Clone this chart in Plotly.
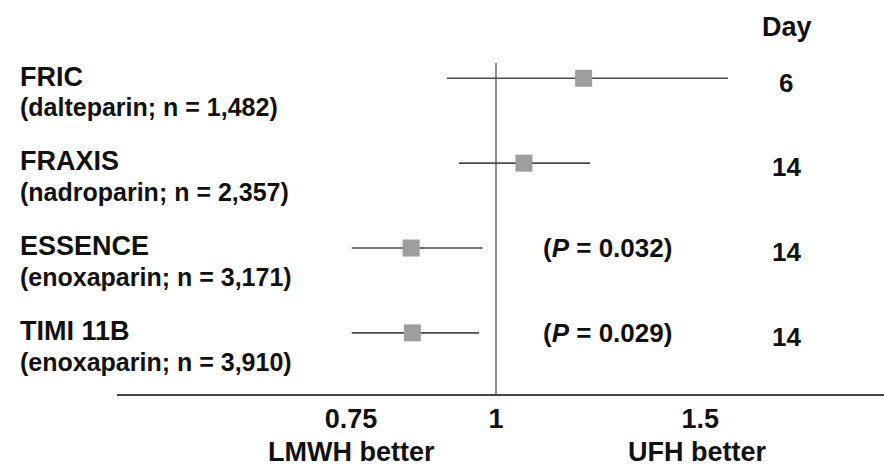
import math
import plotly.graph_objects as go

# ---- data ----
trials = ["FRIC", "FRAXIS", "ESSENCE", "TIMI 11B"]
details = ["(dalteparin; n = 1,482)", "(nadroparin; n = 2,357)",
           "(enoxaparin; n = 3,171)", "(enoxaparin; n = 3,910)"]
estimate = [1.19, 1.057, 0.845, 0.847]
ci_low = [0.907, 0.929, 0.751, 0.751]
ci_high = [1.585, 1.205, 0.974, 0.967]
days = ["6", "14", "14", "14"]
p_values = ["", "", "(<i>P</i> = 0.032)", "(<i>P</i> = 0.029)"]
tick_vals = [0.75, 1, 1.5]
tick_text = ["0.75", "1", "1.5"]
favour_labels = ["LMWH better", "UFH better"]
favour_pos = [0.75, 1.49]

# ---- layout helpers ----
FONT = "Liberation Sans, Arial, sans-serif"
rows = [4, 3, 2, 1]
L, R, T, B = 117, 0, 63, 74
W, H = 884, 468
pw = W - L - R
ph = H - T - B
xr = [-(496 - L) / 1160.0, (W - R - 496) / 1160.0]
yr = [0.28, 4.18]

fig = go.Figure()
fig.add_trace(go.Scatter(
    x=estimate, y=rows, mode="markers",
    marker=dict(symbol="square", size=17, color="#9e9e9e", line=dict(width=0)),
    error_x=dict(type="data", symmetric=False,
                 array=[h - e for h, e in zip(ci_high, estimate)],
                 arrayminus=[e - l for e, l in zip(estimate, ci_low)],
                 color="#4a4a4a", thickness=1.6, width=0),
    showlegend=False, hoverinfo="skip"))

ann = []
for r, t, d, dy, pv in zip(rows, trials, details, days, p_values):
    ann.append(dict(text="<b>%s</b>" % t, x=(18 - L) / pw, xref="paper", y=r + 0.02, yref="y",
                    xanchor="left", yanchor="middle", showarrow=False,
                    font=dict(size=27, color="#111", family=FONT)))
    ann.append(dict(text="<b>%s</b>" % d, x=(18 - L) / pw, xref="paper", y=r - 0.34, yref="y",
                    xanchor="left", yanchor="middle", showarrow=False,
                    font=dict(size=25, color="#111", family=FONT)))
    ann.append(dict(text="<b>%s</b>" % dy, x=(786 - L) / pw, xref="paper", y=r - 0.05, yref="y",
                    xanchor="center", yanchor="middle", showarrow=False,
                    font=dict(size=26, color="#111", family=FONT)))
    if pv:
        ann.append(dict(text="<b>%s</b>" % pv, x=(607 - L) / pw, xref="paper", y=r, yref="y",
                        xanchor="center", yanchor="middle", showarrow=False,
                        font=dict(size=26, color="#111", family=FONT)))
ann.append(dict(text="<b>Day</b>", x=(787 - L) / pw, xref="paper", y=1 + 36 / ph, yref="paper",
                xanchor="center", yanchor="middle", showarrow=False,
                font=dict(size=27, color="#111", family=FONT)))
for lab, pos in zip(favour_labels, favour_pos):
    ann.append(dict(text="<b>%s</b>" % lab, x=math.log10(pos), xref="x", y=-(452 - (H - B)) / ph,
                    yref="paper", xanchor="center", yanchor="middle", showarrow=False,
                    font=dict(size=27, color="#111", family=FONT)))

fig.update_layout(
    width=W, height=H, margin=dict(l=L, r=R, t=T, b=B),
    paper_bgcolor="white", plot_bgcolor="white",
    annotations=ann,
    shapes=[dict(type="line", xref="x", yref="paper", x0=1, x1=1, y0=0, y1=1,
                 line=dict(color="#555", width=1.3))],
    xaxis=dict(type="log", range=xr, showgrid=False, zeroline=False,
               showline=True, linecolor="#444", linewidth=2,
               tickmode="array", tickvals=tick_vals, ticktext=["<b>%s</b>" % t for t in tick_text],
               ticks="", tickfont=dict(size=27, color="#111", family=FONT),
               ticklabelstandoff=0),
    yaxis=dict(range=yr, showgrid=False, zeroline=False, showticklabels=False,
               showline=False, ticks=""),
)
fig.write_html("out.html", config={"displayModeBar": False},
               post_script="document.body.style.margin='0';document.body.style.padding='0';")
